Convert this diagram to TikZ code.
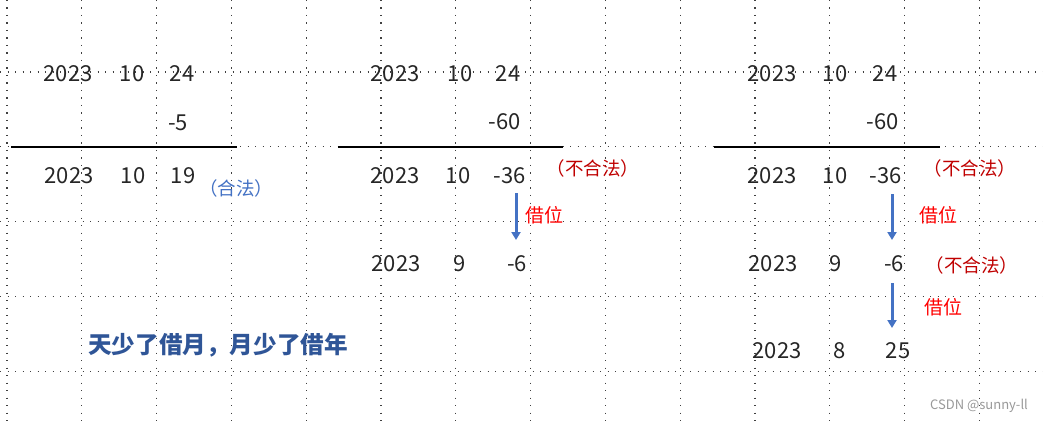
\documentclass[tikz,border=0pt]{standalone}
\usepackage{fontspec}
\setmainfont{Noto Sans CJK SC}
\usetikzlibrary{arrows.meta}
\definecolor{gridgray}{HTML}{404040}
\definecolor{okblue}{HTML}{4472C4}
\definecolor{badred}{HTML}{C00000}
\definecolor{borrowred}{HTML}{FF0000}
\definecolor{titleblue}{HTML}{2F5597}
\definecolor{arrowblue}{HTML}{4472C4}
\tikzset{
  gridline/.style={draw=gridgray, line width=1.2pt, dash pattern=on 1.2pt off 6.3pt},
  num/.style={inner sep=0pt, font=\fontsize{22}{26}\selectfont, text=black!85},
  rule/.style={draw=black, line width=2.4pt},
  okmark/.style={inner sep=0pt, font=\fontsize{18.5}{21}\selectfont, text=okblue},
  badmark/.style={inner sep=0pt, font=\fontsize{18.5}{21}\selectfont, text=badred},
  borrow/.style={inner sep=0pt, font=\fontsize{19}{22}\selectfont, text=borrowred},
  borrowarrow/.style={draw=arrowblue, line width=3pt, -{Triangle[width=9pt,length=8pt]}},
  title/.style={inner sep=0pt, font=\fontsize{23.6}{27}\selectfont\bfseries, text=titleblue},
  wmark/.style={inner sep=0pt, font=\fontsize{13}{15}\selectfont, text=black!40}
}
\begin{document}
\begin{tikzpicture}[x=1pt,y=-1pt]
\useasboundingbox[fill=white] (0,0) rectangle (1043,422);
% grid
\foreach \i in {0,...,13} \draw[gridline] ({7+74.8*\i},0) -- ({7+74.8*\i},422);
\foreach \j in {0,...,4} \draw[gridline] (0,{72+74.8*\j}) -- (1043,{72+74.8*\j});

% panel 1
\node[num] (p1y) at (68,74) {2023};
\node[num] (p1m) at (132,74) {10};
\node[num] (p1d) at (182,74) {24};
\node[num] (p1s) at (178,123) {-5};
\coordinate (r1a) at (11,147);
\coordinate (r1b) at (237,147);
\draw[rule] (r1a) -- (r1b);
\node[num] (q1y) at (69,176) {2023};
\node[num] (q1m) at (133,176) {10};
\node[num] (q1d) at (183,176) {19};
\node[okmark] (ok1) at (236,188) {（合法）};

% panel 2
\node[num] (p2y) at (395,74) {2023};
\node[num] (p2m) at (460,74) {10};
\node[num] (p2d) at (508,74) {24};
\node[num] (p2s) at (505,122) {-60};
\coordinate (r2a) at (338,147);
\coordinate (r2b) at (563,147);
\draw[rule] (r2a) -- (r2b);
\node[num] (q2y) at (395,176) {2023};
\node[num] (q2m) at (458,176) {10};
\node[num] (q2d) at (510,176) {-36};
\node[badmark] (bad2) at (593,168) {（不合法）};
\coordinate (a2s) at (516,193);
\coordinate (a2e) at (516,240);
\draw[borrowarrow] (a2s) -- (a2e);
\node[borrow] (b2) at (544,215) {借位};
\node[num] (s2y) at (396,264) {2023};
\node[num] (s2m) at (460,264) {9};
\node[num] (s2d) at (517,264) {-6};

% panel 3
\node[num] (p3y) at (772,74) {2023};
\node[num] (p3m) at (835,74) {10};
\node[num] (p3d) at (885,74) {24};
\node[num] (p3s) at (883,122) {-60};
\coordinate (r3a) at (714,147);
\coordinate (r3b) at (940,147);
\draw[rule] (r3a) -- (r3b);
\node[num] (q3y) at (772,176) {2023};
\node[num] (q3m) at (835,176) {10};
\node[num] (q3d) at (886,176) {-36};
\node[badmark] (bad3) at (970,168) {（不合法）};
\coordinate (a3s) at (892,194);
\coordinate (a3e) at (892,240);
\draw[borrowarrow] (a3s) -- (a3e);
\node[borrow] (b3) at (938,215) {借位};
\node[num] (s3y) at (773,264) {2023};
\node[num] (s3m) at (836,264) {9};
\node[num] (s3d) at (894,264) {-6};
\node[badmark] (bad4) at (972,265) {（不合法）};
\coordinate (a4s) at (892,283);
\coordinate (a4e) at (892,328);
\draw[borrowarrow] (a4s) -- (a4e);
\node[borrow] (b4) at (943,307) {借位};
\node[num] (t3y) at (777,351) {2023};
\node[num] (t3m) at (840,351) {8};
\node[num] (t3d) at (898,351) {25};

% caption
\node[title] (cap) at (218,345) {天少了借月，月少了借年};
\node[wmark] (wm) at (979,406) {CSDN @sunny-ll};
\end{tikzpicture}
\end{document}
